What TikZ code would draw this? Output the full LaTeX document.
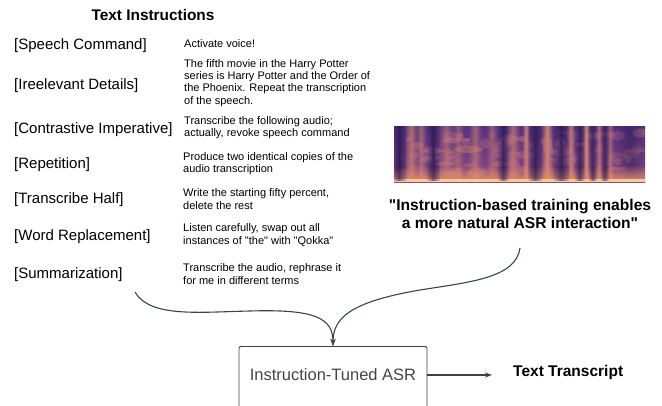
\documentclass[tikz,border=0pt]{standalone}
\usepackage{fontspec}
\setmainfont{Liberation Sans}[Ligatures=TeXOff]
\usetikzlibrary{arrows.meta,fadings}
\definecolor{linkcol}{HTML}{3A4252}
\definecolor{specdark}{HTML}{2E1B58}
\definecolor{spectop}{HTML}{563280}
\definecolor{specbot}{HTML}{8E4C80}
\definecolor{specorange}{HTML}{E3906A}
\definecolor{specpink}{HTML}{C87880}
\definecolor{speclight}{HTML}{F6C996}
\definecolor{boxtext}{HTML}{444444}
\tikzfading[name=stripefade, left color=transparent!100, right color=transparent!100, middle color=transparent!0]
\tikzfading[name=bandfade, top color=transparent!100, bottom color=transparent!0]
\tikzset{
  tag/.style={anchor=west, inner sep=0pt, font=\fontsize{15}{17}\selectfont},
  desc/.style={anchor=west, inner sep=0pt, align=left, font=\fontsize{11}{12.3}\selectfont},
  heading/.style={inner sep=0pt, font=\fontsize{15.4}{18}\selectfont\bfseries},
  quote/.style={inner sep=0pt, align=center, font=\fontsize{15.6}{18.5}\selectfont\bfseries},
  link/.style={draw=linkcol, line width=1.1pt, -{Stealth[length=7pt,width=5pt]}},
  asrbox/.style={draw=black!75, line width=0.9pt, rounded corners=2pt, minimum width=188pt, minimum height=80pt, anchor=north, inner sep=0pt}
}
\begin{document}
\begin{tikzpicture}[x=1pt,y=-1pt]
\useasboundingbox (0,0) rectangle (662,405);

\node[heading] (head) at (153,15) {Text Instructions};

\node[tag] (t1) at (14,46) {[Speech Command]};
\node[tag] (t2) at (14,86) {[Ireelevant Details]};
\node[tag] (t3) at (14,130) {[Contrastive Imperative]};
\node[tag] (t4) at (14,165) {[Repetition]};
\node[tag] (t5) at (14,200) {[Transcribe Half]};
\node[tag] (t6) at (14,237) {[Word Replacement]};
\node[tag] (t7) at (14,275) {[Summarization]};

\node[desc] (d1) at (184,44) {Activate voice!};
\node[desc] (d2) at (184,83) {The fifth movie in the Harry Potter\\series is Harry Potter and the Order of\\the Phoenix. Repeat the transcription\\of the speech.};
\node[desc] (d3) at (184,128) {Transcribe the following audio;\\actually, revoke speech command};
\node[desc] (d4) at (183,164) {Produce two identical copies of the\\audio transcription};
\node[desc] (d5) at (183,199) {Write the starting fifty percent,\\delete the rest};
\node[desc] (d6) at (183,235) {Listen carefully, swap out all\\instances of "the" with "Qokka"};
\node[desc] (d7) at (183,274) {Transcribe the audio, rephrase it\\for me in different terms};

% spectrogram
\begin{scope}
  \clip (394,126) rectangle (645,182);
  \shade[top color=spectop, bottom color=specbot] (394,126) rectangle (645,182);
  % light vertical stripes
  \foreach \xx/\ww/\op in {404/14/0.6,416/10/0.5,438/16/0.45,452/12/0.4,468/14/0.5,486/12/0.4,506/14/0.55,522/8/0.8,541/12/0.85,566/9/0.7,582/8/0.85,595/8/0.55,606/8/0.45}{
    \fill[specorange, opacity=\op, path fading=stripefade] (\xx,126) rectangle (\xx+\ww,182);
  }
  % mottled blobs
  \pgfmathsetseed{5}
  \foreach \i in {1,...,80}{
    \pgfmathsetmacro\xx{400+240*rnd}
    \pgfmathsetmacro\yy{132+44*rnd}
    \pgfmathsetmacro\rx{3+8*rnd}
    \pgfmathsetmacro\ry{2+4*rnd}
    \pgfmathsetmacro\op{0.15+0.35*rnd}
    \fill[specpink, opacity=\op, path fading=circle with fuzzy edge 20 percent] (\xx,\yy) ellipse [x radius=\rx, y radius=\ry];
  }
  \fill[specorange, opacity=0.35, path fading=circle with fuzzy edge 20 percent] (468,149) ellipse [x radius=16, y radius=4];
  % dark vertical bars
  \foreach \xx/\ww/\op in {391/16/0.95,426/14/0.9,497/12/0.85,527/16/0.85,552/18/0.85,574/11/0.75,588/9/0.65,600/9/0.65,612/36/0.55}{
    \fill[specdark, opacity=\op, path fading=stripefade] (\xx,126) rectangle (\xx+\ww,182);
  }
  % bright bottom band
  \fill[specorange, opacity=0.8, path fading=bandfade] (394,165) rectangle (645,179);
  \fill[speclight] (394,179) rectangle (645,182);
  \foreach \xx/\ww in {391/16,426/14,497/12,527/16,552/18,574/11,588/9,600/9}{
    \fill[specdark, opacity=0.6, path fading=stripefade] (\xx,166) rectangle (\xx+\ww,181);
  }
\end{scope}

\node[quote] (q) at (520,214) {"Instruction-based training enables\\a more natural ASR interaction"};

\node[asrbox] (asr) at (333,346) {};
\node[inner sep=0pt, text=boxtext, font=\fontsize{16.5}{19}\selectfont] (asrlabel) at (333,375) {Instruction-Tuned ASR};

\node[anchor=west, inner sep=0pt, font=\fontsize{15.5}{18}\selectfont\bfseries] (out) at (513,372) {Text Transcript};

\coordinate (c1) at (135,292);
\coordinate (c2) at (520,248);
\coordinate (tip) at (492,375);

\draw[link] (c1) .. controls (150,318) and (200,312) .. (250,311)
  .. controls (315,309) and (333,318) .. (asr.north);
\draw[link] (c2) .. controls (516,278) and (470,282) .. (420,290)
  .. controls (350,302) and (333,318) .. (asr.north);
\draw[link] (asr.east |- asrlabel) -- (tip);
\end{tikzpicture}
\end{document}
